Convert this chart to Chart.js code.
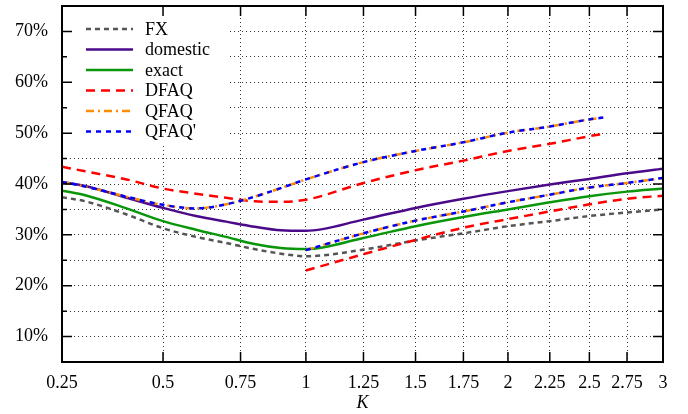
<!DOCTYPE html>
<html>
<head>
<meta charset="utf-8">
<script src="https://cdn.jsdelivr.net/npm/chart.js@4/dist/chart.umd.min.js"></script>
<style>
  html, body { margin: 0; padding: 0; background: #fff; }
</style>
</head>
<body>
<canvas id="myChart" width="688" height="414"></canvas>
<script>
// tick positions on the K axis (axis is drawn on a sqrt(K) scale)
const kTicks = [0.25, 0.5, 0.75, 1, 1.25, 1.5, 1.75, 2, 2.25, 2.5, 2.75, 3];
const kTickLabels = ['0.25', '0.5', '0.75', '1', '1.25', '1.5', '1.75', '2', '2.25', '2.5', '2.75', '3'];

// full range K grid
const kAll = [0.25, 0.3, 0.4, 0.5, 0.6, 0.7, 0.8, 0.9, 1, 1.25, 1.5, 1.75, 2, 2.25, 2.5, 2.75, 3];
const fx = [37.4, 36.6, 34.0, 31.3, 29.6, 28.4, 27.2, 26.3, 25.8, 27.1, 28.9, 30.3, 31.7, 32.7, 33.7, 34.4, 35.0];
const domestic = [40.4, 39.6, 37.3, 35.3, 33.7, 32.6, 31.6, 30.9, 30.8, 33.0, 35.3, 37.1, 38.6, 39.9, 41.0, 42.1, 43.0];
const exact = [38.7, 37.8, 35.2, 32.7, 31.0, 29.6, 28.2, 27.4, 27.2, 29.4, 31.7, 33.5, 35.0, 36.4, 37.6, 38.5, 39.1];

// upper branch (ends at K = 2.6) and lower branch (starts at K = 1)
const kUpper = [0.25, 0.3, 0.4, 0.5, 0.6, 0.7, 0.8, 0.9, 1, 1.25, 1.5, 1.75, 2, 2.25, 2.5, 2.6];
const kLower = [1, 1.25, 1.5, 1.75, 2, 2.25, 2.5, 2.75, 3];
const dfaqUpper = [43.4, 42.5, 40.9, 39.1, 38.1, 37.3, 36.6, 36.5, 36.9, 40.2, 42.7, 44.6, 46.5, 47.9, 49.4, 49.9];
const dfaqLower = [23.0, 26.2, 29.0, 31.4, 33.1, 34.6, 36.0, 37.1, 37.7];
const qfaqUpper = [40.4, 39.5, 37.5, 35.9, 35.2, 36.0, 37.5, 39.2, 40.9, 44.3, 46.5, 48.2, 50.1, 51.3, 52.7, 53.1];
const qfaqLower = [27.0, 30.3, 32.8, 34.6, 36.4, 37.9, 39.3, 40.2, 41.2];

const FONT = '"Liberation Serif", "Times New Roman", serif';

const pts = (ks, vs) => ks.map((k, i) => ({ x: Math.sqrt(k), y: vs[i] }));
const branches = (ka, va, kb, vb) => [...pts(ka, va), { x: 1, y: null }, ...pts(kb, vb)];

const main = () => {
  const ctx = document.getElementById('myChart').getContext('2d');

  const datasets = [
    { label: 'FX', data: pts(kAll, fx), borderColor: '#555555', borderDash: [5, 4] },
    { label: 'domestic', data: pts(kAll, domestic), borderColor: '#4b0a8a', borderDash: [] },
    { label: 'exact', data: pts(kAll, exact), borderColor: '#0a960a', borderDash: [] },
    { label: 'DFAQ', data: branches(kUpper, dfaqUpper, kLower, dfaqLower), borderColor: '#ff0000', borderDash: [9, 6] },
    { label: 'QFAQ', data: branches(kUpper, qfaqUpper, kLower, qfaqLower), borderColor: '#ff8c00', borderDash: [8, 4, 2, 4] },
    { label: "QFAQ'", data: branches(kUpper, qfaqUpper, kLower, qfaqLower), borderColor: '#0000ff', borderDash: [5, 5] },
  ].map((d, i) => ({
    ...d,
    borderWidth: 2.5,
    pointRadius: 0,
    fill: false,
    spanGaps: false,
    cubicInterpolationMode: 'monotone',
    order: 10 - i,
  }));

  // white legend box, frame and inward tick marks (gnuplot look)
  const decor = {
    id: 'decor',
    beforeDatasetsDraw(chart) {
      const { ctx, chartArea: a } = chart;
      ctx.save();
      ctx.fillStyle = '#fff';
      ctx.fillRect(a.left + 1, a.top + 1, 166, 136);
      ctx.restore();
    },
    afterDatasetsDraw(chart) {
      const { ctx, chartArea: a, scales } = chart;
      ctx.save();
      // legend
      const lx = a.left + 24, ly = a.top + 23, step = 20.5;
      chart.data.datasets.forEach((d, i) => {
        const y = ly + i * step;
        ctx.beginPath();
        ctx.strokeStyle = d.borderColor;
        ctx.lineWidth = d.borderWidth;
        ctx.setLineDash(d.borderDash);
        ctx.moveTo(lx, y);
        ctx.lineTo(lx + 47, y);
        ctx.stroke();
        ctx.setLineDash([]);
        ctx.fillStyle = '#000';
        ctx.font = '18px ' + FONT;
        ctx.textBaseline = 'middle';
        ctx.textAlign = 'left';
        ctx.fillText(d.label, lx + 59, y + 1);
      });
      // ticks
      ctx.strokeStyle = '#000';
      ctx.lineWidth = 1.5;
      ctx.beginPath();
      kTicks.forEach(k => {
        const x = scales.x.getPixelForValue(Math.sqrt(k));
        ctx.moveTo(x, a.bottom); ctx.lineTo(x, a.bottom - 10);
        ctx.moveTo(x, a.top); ctx.lineTo(x, a.top + 10);
      });
      scales.y.ticks.forEach(t => {
        const y = scales.y.getPixelForValue(t.value);
        const len = t.value % 10 === 0 ? 10 : 5;
        ctx.moveTo(a.left, y); ctx.lineTo(a.left + len, y);
        ctx.moveTo(a.right, y); ctx.lineTo(a.right - len, y);
      });
      ctx.stroke();
      // frame
      ctx.lineWidth = 2;
      ctx.strokeRect(a.left, a.top, a.right - a.left, a.bottom - a.top);
      ctx.restore();
    },
  };

  const config = {
    type: 'line',
    data: { datasets },
    plugins: [decor],
    options: {
      responsive: false,
      animation: false,
      devicePixelRatio: 1,
      layout: { padding: { left: 0, right: 25, top: 6, bottom: 0 } },
      plugins: {
        legend: { display: false },
        tooltip: { enabled: false },
      },
      scales: {
        x: {
          type: 'linear',
          min: Math.sqrt(0.25),
          max: Math.sqrt(3),
          afterBuildTicks: s => { s.ticks = kTicks.map(k => ({ value: Math.sqrt(k) })); },
          afterFit: s => { s.height = 52; s.paddingLeft = 0; s.paddingRight = 0; },
          ticks: {
            autoSkip: false,
            maxRotation: 0,
            padding: 10,
            color: '#000',
            font: { family: FONT, size: 18 },
            callback: (v, i) => kTickLabels[i],
          },
          grid: { color: 'rgba(0,0,0,0.8)', lineWidth: 1, drawTicks: false },
          border: { display: false, dash: [1, 3] },
          title: {
            display: true,
            text: 'K',
            color: '#000',
            font: { family: FONT, size: 18, style: 'italic' },
            padding: { top: 0, bottom: 0 },
          },
        },
        y: {
          min: 5,
          max: 75,
          afterFit: s => { s.width = 62; s.paddingTop = 0; s.paddingBottom = 0; },
          ticks: {
            stepSize: 5,
            autoSkip: false,
            padding: 14,
            color: '#000',
            font: { family: FONT, size: 18 },
            callback: v => (v % 10 === 0 ? v + '%' : ''),
          },
          grid: { color: 'rgba(0,0,0,0.8)', lineWidth: 1, drawTicks: false },
          border: { display: false, dash: [1, 3] },
        },
      },
    },
  };
  new Chart(ctx, config);
};

main();
</script>
</body>
</html>
